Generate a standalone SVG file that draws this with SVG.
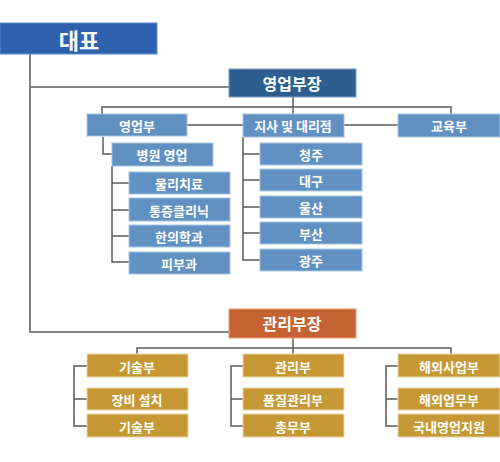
<svg xmlns="http://www.w3.org/2000/svg" width="500" height="462" viewBox="0 0 500 462">
<style>
text{font-family:"Noto Sans CJK KR","Noto Sans",sans-serif;fill:#fff;font-weight:bold;text-anchor:middle;dominant-baseline:central}
.t{font-size:13px}
.b{fill:#6190C2;stroke:#A9C3E0;stroke-width:1}
.g{fill:#C59834;stroke:#EAD6AA;stroke-width:1}
.c path{fill:none;stroke:#5a5a5a;stroke-width:1.5}
</style>
<rect width="500" height="462" fill="#fff"/>
<g class="c">
<path d="M30 54V332H229"/>
<path d="M30 87H229"/>
<path d="M293 97V114M102 114V107H451V114"/>
<path d="M187 125H243M344 125H398"/>
<path d="M103 137V154H112"/>
<path d="M112 166V262H129M112 183H129M112 210H129M112 236H129"/>
<path d="M243 137V260H260M243 154H260M243 180H260M243 207H260M243 233H260"/>
<path d="M293 338V354M137 354V348H451V354"/>
<path d="M87 366H74V426H87M74 399H87"/>
<path d="M243 366H231V426H243M231 399H243"/>
<path d="M398 366H386V426H398M386 399H398"/>
</g>
<g id="ceo"><rect x="0" y="23" width="157" height="31" fill="#2E62AE" stroke="#5F8BCB"/><text x="79" y="39" font-size="22">대표</text></g>
<g id="sales-head"><rect x="229" y="69" width="127" height="28" fill="#2C5F8F" stroke="#7A9CC0"/><text x="292" y="83" font-size="16">영업부장</text></g>
<g id="sales"><rect class="b" x="87" y="114" width="100" height="22"/><text class="t" x="137" y="125">영업부</text></g>
<g id="branch"><rect class="b" x="243" y="114" width="101" height="23"/><text class="t" x="293" y="125">지사 및 대리점</text></g>
<g id="edu"><rect class="b" x="398" y="114" width="102" height="23"/><text class="t" x="449" y="125">교육부</text></g>
<g id="hospital"><rect class="b" x="112" y="143" width="101" height="23"/><text class="t" x="162" y="154">병원 영업</text></g>
<g id="pt"><rect class="b" x="129" y="172" width="101" height="22"/><text class="t" x="179" y="183">물리치료</text></g>
<g id="pain"><rect class="b" x="129" y="198" width="101" height="23"/><text class="t" x="179" y="210">통증클리닉</text></g>
<g id="oriental"><rect class="b" x="129" y="225" width="101" height="22"/><text class="t" x="179" y="236">한의학과</text></g>
<g id="derm"><rect class="b" x="129" y="252" width="101" height="22"/><text class="t" x="179" y="263">피부과</text></g>
<g id="cheongju"><rect class="b" x="260" y="143" width="102" height="22"/><text class="t" x="311" y="154">청주</text></g>
<g id="daegu"><rect class="b" x="260" y="169" width="102" height="22"/><text class="t" x="311" y="180">대구</text></g>
<g id="ulsan"><rect class="b" x="260" y="196" width="102" height="22"/><text class="t" x="311" y="207">울산</text></g>
<g id="busan"><rect class="b" x="260" y="222" width="102" height="22"/><text class="t" x="311" y="233">부산</text></g>
<g id="gwangju"><rect class="b" x="260" y="249" width="102" height="22"/><text class="t" x="311" y="260">광주</text></g>
<g id="admin-head"><rect x="229" y="309" width="127" height="29" fill="#C46331" stroke="#E2A27F"/><text x="292" y="323" font-size="16">관리부장</text></g>
<g id="tech"><rect class="g" x="87" y="354" width="101" height="23"/><text class="t" x="137" y="366">기술부</text></g>
<g id="install"><rect class="g" x="87" y="388" width="101" height="22"/><text class="t" x="137" y="399">장비 설치</text></g>
<g id="tech2"><rect class="g" x="87" y="414" width="101" height="23"/><text class="t" x="137" y="426">기술부</text></g>
<g id="admin"><rect class="g" x="243" y="354" width="101" height="23"/><text class="t" x="293" y="366">관리부</text></g>
<g id="quality"><rect class="g" x="243" y="388" width="101" height="22"/><text class="t" x="293" y="399">품질관리부</text></g>
<g id="general"><rect class="g" x="243" y="414" width="101" height="23"/><text class="t" x="293" y="426">총무부</text></g>
<g id="overseas"><rect class="g" x="398" y="354" width="102" height="23"/><text class="t" x="449" y="366">해외사업부</text></g>
<g id="overseas-ops"><rect class="g" x="398" y="388" width="102" height="22"/><text class="t" x="449" y="399">해외업무부</text></g>
<g id="domestic"><rect class="g" x="398" y="414" width="102" height="23"/><text class="t" x="449" y="426">국내영업지원</text></g>
</svg>
